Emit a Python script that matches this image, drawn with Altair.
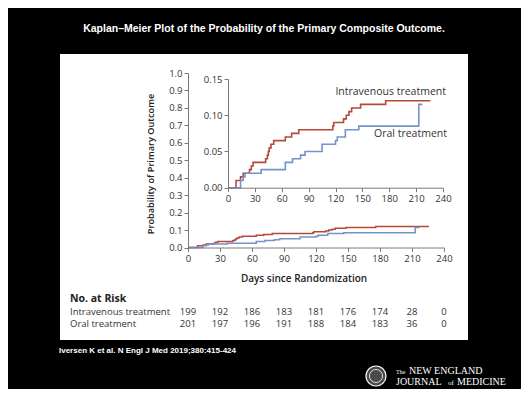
import altair as alt
import pandas as pd

# ---- data ----
groups = ["Intravenous treatment", "Oral treatment"]
colors = ["#b5483a", "#7393c9"]

iv_days = [0, 9, 14, 17, 24, 26, 28, 42, 44, 45, 46, 48, 51, 64, 71, 79, 117, 118,
           129, 132, 135, 138, 148, 176, 226]
iv_prob = [0, .01, .015, .02, .025, .03, .035, .04, .045, .05, .055, .06, .065, .07,
           .075, .08, .085, .09, .095, .10, .105, .11, .115, .12, .12]
oral_days = [0, 14, 17, 19, 37, 64, 72, 81, 86, 105, 120, 122, 131, 146, 213, 217]
oral_prob = [0, .01, .015, .02, .025, .035, .04, .045, .05, .06, .065, .07, .08,
             .085, .115, .115]

risk_days = [0, 30, 60, 90, 120, 150, 180, 210, 240]
iv_risk = [199, 192, 186, 183, 181, 176, 174, 28, 0]
oral_risk = [201, 197, 196, 191, 188, 184, 183, 36, 0]

main_y_ticks = [0.0, 0.1, 0.2, 0.3, 0.4, 0.5, 0.6, 0.7, 0.8, 0.9, 1.0]
inset_y_ticks = [0.0, 0.05, 0.10, 0.15]

title_text = "Kaplan\u2013Meier Plot of the Probability of the Primary Composite Outcome."
footer_text = "Iversen K et al. N Engl J Med 2019;380:415-424"

# ---- tables ----
curves = pd.concat([
    pd.DataFrame({"day": iv_days, "prob": iv_prob, "group": groups[0]}),
    pd.DataFrame({"day": oral_days, "prob": oral_prob, "group": groups[1]}),
])
iv_risk_df = pd.DataFrame({"day": risk_days, "n": iv_risk})
oral_risk_df = pd.DataFrame({"day": risk_days, "n": oral_risk})

W, H = 513, 381
FONT = "Open Sans"

color_enc = alt.Color("group:N", scale=alt.Scale(domain=groups, range=colors), legend=None)

axis_style = dict(domainColor="#7a7a7a", tickColor="#7a7a7a", tickSize=4, grid=False,
                  labelColor="#333333", labelFont=FONT, labelFontSize=9.5, labelPadding=2,
                  labelFlush=False, labelOverlap=False,
                  titleFont=FONT, titleFontWeight=600, titleColor="#222222",
                  zindex=2)

main_x_scale = alt.Scale(domain=[0, 240], range=[180, 436], nice=False, zero=False)
main_y_scale = alt.Scale(domain=[0, 1], range=[239.5, 65], nice=False)
main_x_axis = alt.Axis(orient="bottom", offset=239.5 - H, values=risk_days,
                       title="Days since Randomization", titleFontSize=10,
                       titleX=295.5, titleY=30.5, titleAlign="center",
                       titleBaseline="middle", **axis_style)
main_y_axis = alt.Axis(orient="left", offset=-180, values=main_y_ticks, format=".1f",
                       title="Probability of Primary Outcome", titleFontSize=9.2,
                       titleX=-38, titleY=155.5, titleAlign="center", titleAngle=270,
                       titleBaseline="middle", **axis_style)

main_lines = alt.Chart(curves).mark_line(interpolate="step-after", strokeWidth=1.5).encode(
    x=alt.X("day:Q", scale=main_x_scale, axis=main_x_axis),
    y=alt.Y("prob:Q", scale=main_y_scale, axis=main_y_axis),
    color=color_enc,
)

def risk_row(df, ypix):
    return alt.Chart(df).mark_text(font=FONT, fontSize=9.5, color="#333333",
                                   baseline="middle", align="center").encode(
        x=alt.X("day:Q", scale=main_x_scale, axis=main_x_axis),
        y=alt.value(ypix),
        text="n:Q",
    )

main_group = alt.layer(main_lines, risk_row(iv_risk_df, 304), risk_row(oral_risk_df, 315.5))

ins_x_scale = alt.Scale(domain=[0, 240], range=[220, 435], nice=False, zero=False)
ins_y_scale = alt.Scale(domain=[0, 0.15], range=[179.7, 71], nice=False)
ins_x_axis = alt.Axis(orient="bottom", offset=179.7 - H, values=risk_days, title=None, **axis_style)
ins_y_axis = alt.Axis(orient="left", offset=-220, values=inset_y_ticks, format=".2f",
                      title=None, **axis_style)

inset_lines = alt.Chart(curves).mark_line(interpolate="step-after", strokeWidth=1.6).encode(
    x=alt.X("day:Q", scale=ins_x_scale, axis=ins_x_axis),
    y=alt.Y("prob:Q", scale=ins_y_scale, axis=ins_y_axis),
    color=color_enc,
)

# ---- background panel and text ----
panel = alt.Chart(pd.DataFrame({"a": [0]})).mark_rect(color="white").encode(
    x=alt.value(52), x2=alt.value(460), y=alt.value(46), y2=alt.value(332))

def label(text, x, y, align="left", size=10, color="#333333", weight="normal", font=FONT):
    return alt.Chart(pd.DataFrame({"t": [text]})).mark_text(
        align=align, baseline="middle", fontSize=size, color=color, fontWeight=weight,
        font=font).encode(x=alt.value(x), y=alt.value(y), text="t:N")

SERIF = "Liberation Serif"
texts = [
    label(title_text, 256, 21, align="center", size=10.5, color="white", weight="bold",
          font="Liberation Sans"),
    label(footer_text, 51, 343, size=8, color="white", weight="bold", font="Liberation Sans"),
    label("Intravenous treatment", 438, 84, align="right", size=10.5),
    label("Oral treatment", 439, 126, align="right", size=10.5),
    label("No. at Risk", 62, 291, size=10.5, weight="bold", color="#222222"),
    label(groups[0], 62, 304, size=9.5),
    label(groups[1], 62, 315.5, size=9.5),
    label("The", 388, 363.5, size=6, color="white", font=SERIF),
    label("NEW ENGLAND", 401, 363, size=10, color="white", font=SERIF),
    label("JOURNAL", 388, 374, size=10, color="white", font=SERIF),
    label("of", 440, 374.5, size=7, color="white", font=SERIF),
    label("MEDICINE", 449, 374, size=10, color="white", font=SERIF),
]

seal = alt.Chart(pd.DataFrame({"a": [0]})).mark_point(
    shape="circle", size=400, filled=True, fill="#4a4a4a", stroke="white", strokeWidth=1.2,
    opacity=1).encode(x=alt.value(368), y=alt.value(368))
seal_inner = alt.Chart(pd.DataFrame({"a": [0]})).mark_point(
    shape="circle", size=170, filled=False, stroke="#dddddd", strokeWidth=1,
    opacity=1).encode(x=alt.value(368), y=alt.value(368))

chart = alt.layer(panel, main_group, inset_lines, *texts, seal, seal_inner).resolve_scale(
    x="independent", y="independent"
).properties(
    width=W, height=H, background="black", padding=0, autosize=alt.AutoSizeParams(type="none")
).configure_view(strokeWidth=0)

chart.save("out.html", embed_options={"renderer": "svg", "actions": False})
